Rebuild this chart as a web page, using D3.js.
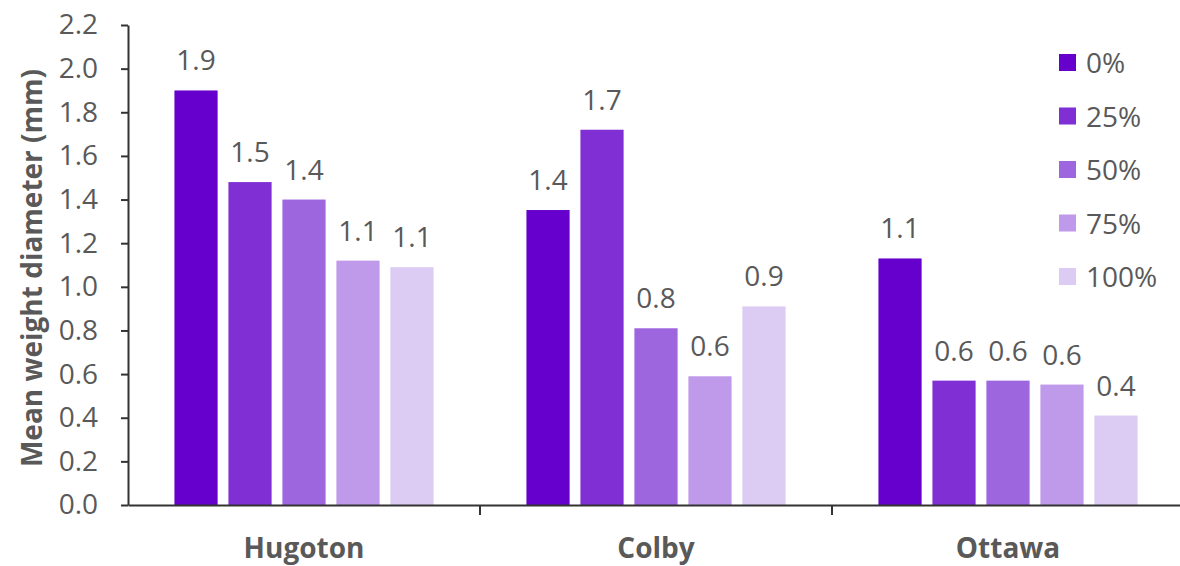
<!DOCTYPE html>
<html><head><meta charset="utf-8">
<script src="https://cdn.jsdelivr.net/npm/d3@7"></script>
<style>
html,body{margin:0;padding:0;background:#fff;}
svg{display:block;}
text{font-family:"Open Sans",sans-serif;fill:#595959;}
</style></head>
<body>
<svg id="chart" width="1180" height="566"></svg>
<script>
const categories = ["Hugoton", "Colby", "Ottawa"];
const seriesNames = ["0%", "25%", "50%", "75%", "100%"];
const colors = ["#6600cc", "#7f2fd4", "#9d66de", "#c09aea", "#dccbf2"];
const v0 = [1.90, 1.352, 1.13];
const v25 = [1.48, 1.72, 0.57];
const v50 = [1.40, 0.81, 0.57];
const v75 = [1.12, 0.59, 0.552];
const v100 = [1.09, 0.91, 0.41];
const seriesValues = [v0, v25, v50, v75, v100];
const yTicks = [0, 0.2, 0.4, 0.6, 0.8, 1.0, 1.2, 1.4, 1.6, 1.8, 2.0, 2.2];

const svg = d3.select("#chart");
const mLeft = 128, mRight = 1184, mTop = 25, mBottom = 505;
const axisColor = "#333333";

const x0 = d3.scaleBand().domain(categories).range([mLeft, mRight]).padding(0);
const x1 = d3.scaleBand().domain(seriesNames).range([0, x0.bandwidth()])
  .paddingInner(0.2).paddingOuter(0.86);
const y = d3.scaleLinear().domain([0, 2.2]).range([mBottom, mTop]);

const data = [];
categories.forEach((c, ci) => seriesNames.forEach((s, si) => data.push({c, s, si, v: seriesValues[si][ci]})));

svg.append("g").selectAll("rect").data(data).join("rect")
  .attr("x", d => x0(d.c) + x1(d.s))
  .attr("y", d => y(d.v))
  .attr("width", x1.bandwidth())
  .attr("height", d => y(0) - y(d.v))
  .attr("fill", d => colors[d.si]);

const fmt = d3.format(".1f");
svg.append("g").selectAll("text").data(data).join("text")
  .attr("x", d => x0(d.c) + x1(d.s) + x1.bandwidth() / 2)
  .attr("y", d => y(d.v) - 20)
  .attr("text-anchor", "middle")
  .style("font-size", "28px")
  .text(d => fmt(d.v));

const yAxis = svg.append("g").attr("transform", `translate(${mLeft},0)`)
  .call(d3.axisLeft(y).tickValues(yTicks).tickFormat(d3.format(".1f")).tickSize(7).tickSizeOuter(0).tickPadding(23));
yAxis.select(".domain").attr("stroke", axisColor).attr("stroke-width", 2);
yAxis.selectAll(".tick line").attr("stroke", axisColor).attr("stroke-width", 2);
yAxis.selectAll(".tick text").style("font-size", "28px").attr("fill", "#595959").style("font-family", '"Open Sans",sans-serif');

const xAxis = svg.append("g").attr("transform", `translate(0,${mBottom})`)
  .call(d3.axisBottom(x0).tickSize(0).tickPadding(33));
xAxis.select(".domain").attr("stroke", axisColor).attr("stroke-width", 2);
xAxis.selectAll(".tick text").style("font-size", "28px").style("font-weight", "bold")
  .attr("fill", "#595959").style("font-family", '"Open Sans",sans-serif');
svg.append("g").selectAll("line").data(categories.slice(1)).join("line")
  .attr("x1", d => x0(d)).attr("x2", d => x0(d))
  .attr("y1", mBottom).attr("y2", mBottom + 10)
  .attr("stroke", axisColor).attr("stroke-width", 2);

svg.append("text")
  .attr("transform", `translate(42,268) rotate(-90)`)
  .attr("text-anchor", "middle")
  .style("font-size", "28px").style("font-weight", "bold")
  .text("Mean weight diameter (mm)");

const lg = svg.append("g").selectAll("g").data(seriesNames).join("g")
  .attr("transform", (d, i) => `translate(1059,${54 + i * 53.5})`);
lg.append("rect").attr("width", 17).attr("height", 17).attr("fill", (d, i) => colors[i]);
lg.append("text").attr("x", 27).attr("y", 19).style("font-size", "28px").text(d => d);
</script>
</body></html>
